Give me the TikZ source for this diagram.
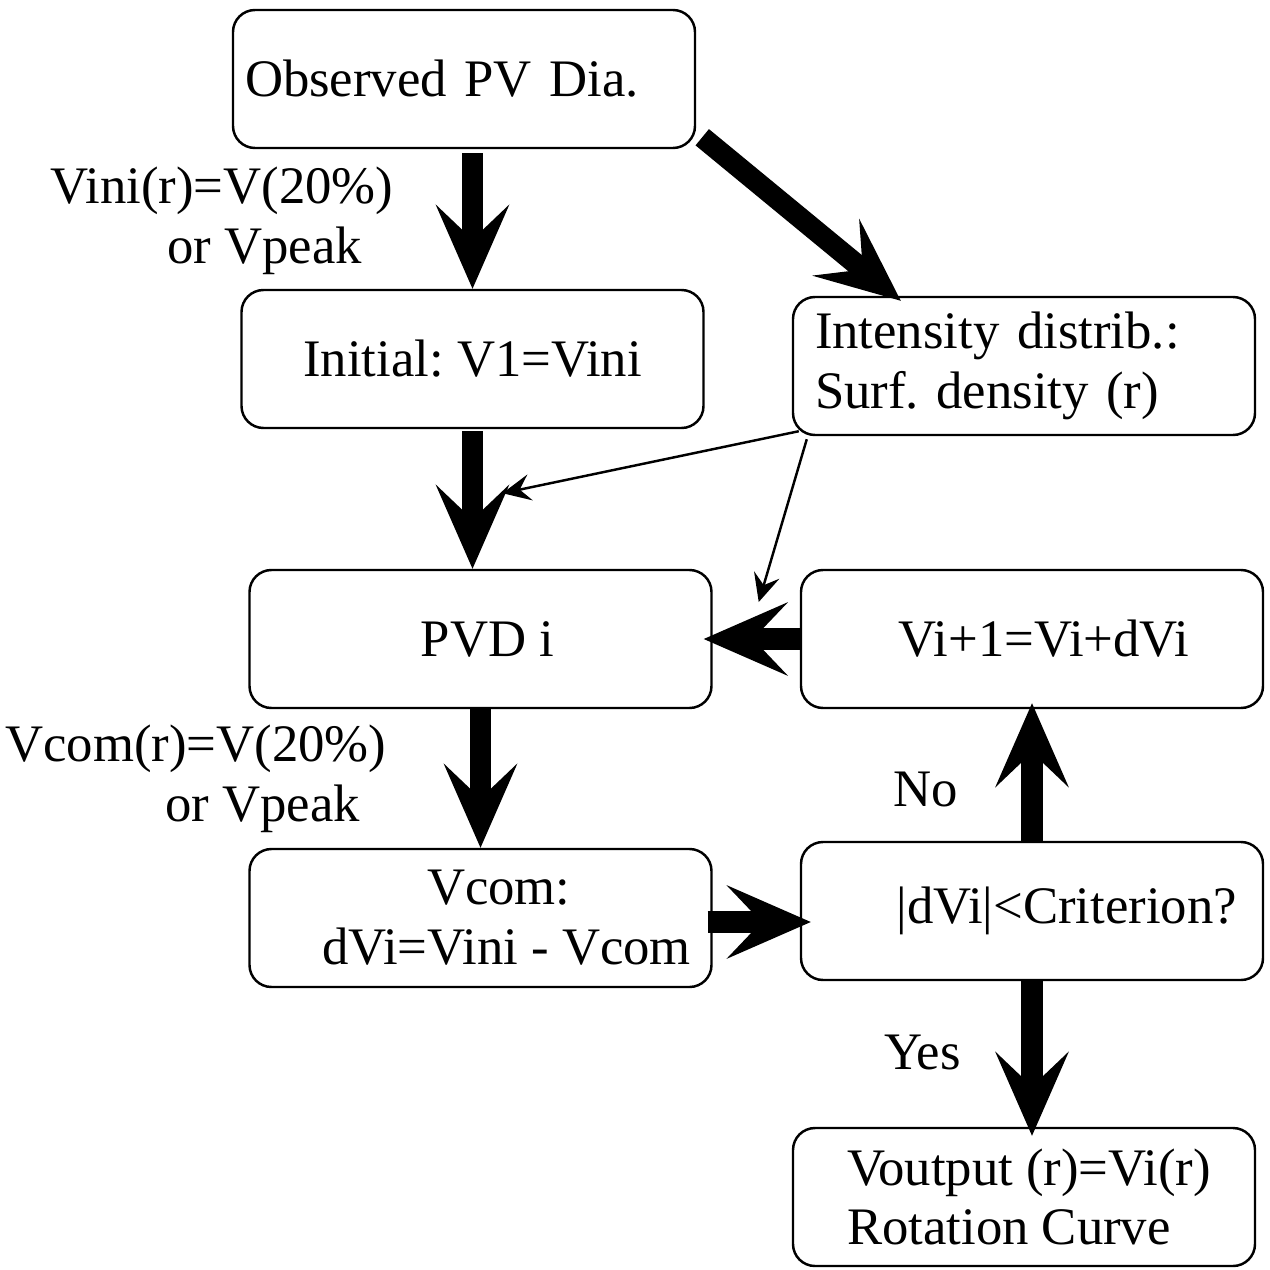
\documentclass[tikz,border=0pt]{standalone}
\usepackage{fontspec}
\setmainfont{Liberation Serif}
\usetikzlibrary{arrows.meta,positioning}

\begin{document}
\frenchspacing
\begin{tikzpicture}[
font=\fontsize{15}{17}\selectfont,
roundnode/.style={rectangle, draw=black, line width=0.7pt, rounded corners=0.22cm, minimum width=4.62cm, minimum height=1.38cm, align=center},
bigarrow/.style={line width=6pt, -{Stealth[length=24pt, width=21pt, inset=10pt, line width=0.5pt]}},
thinarrow/.style={line width=0.7pt, -{Stealth[length=8pt, width=7.5pt, inset=3pt, line width=0.5pt]}}
]
\useasboundingbox (0,0) rectangle (12.7,-12.7);
%Nodes
\node[roundnode, text width=4.38cm, inner xsep=0.12cm, align=left] (obs) at (4.64,-0.79) {Observed PV Dia.};
\node[roundnode] (init) at (4.725,-3.59) {Initial: V1=Vini};
\node[roundnode, text width=4.18cm, inner xsep=0.22cm, align=left] (dens) at (10.24,-3.66) {Intensity distrib.:\\Surf. density (r)};
\node[roundnode] (pvd) at (4.805,-6.39) {\hspace*{0.14cm}PVD i};
\node[roundnode] (upd) at (10.32,-6.39) {\hspace*{0.24cm}Vi+1=Vi+dVi};
\node[roundnode, align=left] (vcom) at (4.805,-9.18) {\hspace*{1.57cm}Vcom:\\\hspace*{0.52cm}dVi=Vini - Vcom};
\node[roundnode, text width=4.10cm, inner xsep=0.26cm, align=right] (crit) at (10.32,-9.11) {|dVi|<Criterion?};
\node[roundnode, align=left] (out) at (10.24,-11.97) {\hspace*{0.1cm}Voutput (r)=Vi(r)\\\hspace*{0.1cm}Rotation Curve};

\coordinate (tipA) at ([shift={(0.3,-0.64)}]init.south);
\coordinate (tipB) at ([shift={(0.46,0.37)}]pvd.east);

%Arrows
\draw[bigarrow] ([yshift=-0.04cm]init.north |- obs.south) -- (init.north)
  node[midway, left=0.57cm, align=left] (vinilab) {Vini(r)=V(20\%)\\\hspace*{1.17cm}or Vpeak};
\draw[bigarrow] ([shift={(0.06,0.12)}]obs.south east) -- ([shift={(1.09,-0.05)}]dens.north west);
\draw[bigarrow] ([yshift=-0.02cm]init.south) -- (init.south |- pvd.north);
\draw[thinarrow] ([shift={(0.07,0.05)}]dens.south west) -- (tipA);
\draw[thinarrow] ([shift={(0.15,-0.03)}]dens.south west) -- (tipB);
\draw[bigarrow] (upd.west) -- ([xshift=-0.09cm]pvd.east |- upd.west);
\draw[bigarrow] (pvd.south) -- (vcom.north)
  node[midway, left=0.72cm, align=left] (vcomlab) {Vcom(r)=V(20\%)\\\hspace*{1.6cm}or Vpeak};
\draw[bigarrow] ([shift={(-0.05,-0.04)}]vcom.east) -- ([shift={(0.11,-0.04)}]vcom.east -| crit.west);
\draw[bigarrow] (crit.north) -- ([yshift=0.06cm]upd.south) node[pos=0.37, left=0.52cm] (nolab) {No};
\draw[bigarrow] (crit.south) -- ([yshift=-0.09cm]crit.south |- out.north) node[pos=0.46, left=0.49cm] (yeslab) {Yes};

\end{tikzpicture}
\end{document}
